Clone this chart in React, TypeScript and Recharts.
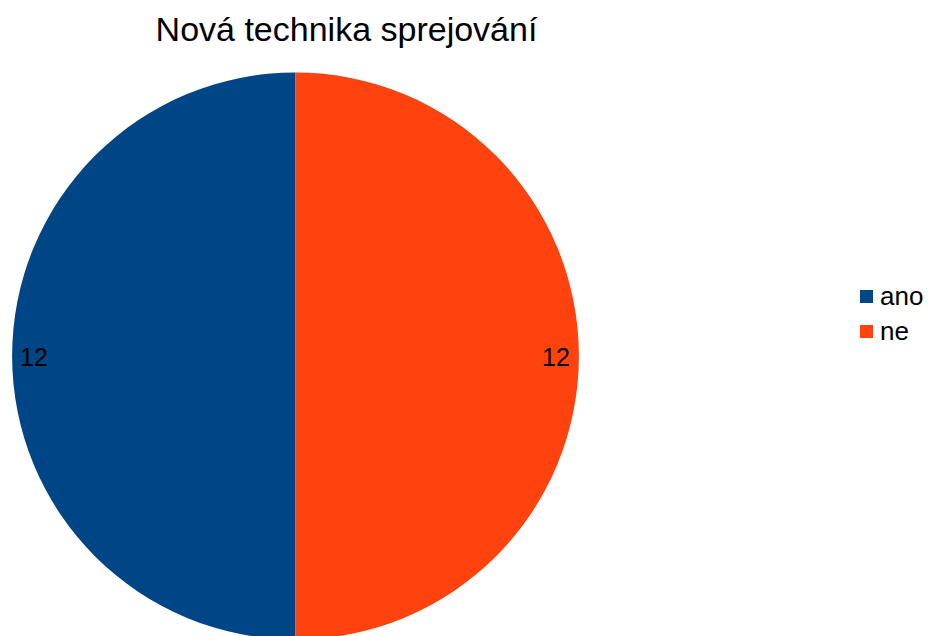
import React from 'react';
import { PieChart, Pie, Cell } from 'recharts';

const categories = ['ano', 'ne'];
const values = [12, 12];
const colors = ['#004586', '#ff420e'];

const chartData = categories.map((name, i) => ({ name, value: values[i] }));

const RAD = Math.PI / 180;
const FONT = '"Liberation Sans", Arial, sans-serif';

const renderLabel = (props: any) => {
  const { cx, cy, midAngle, value } = props;
  const r = 261;
  const x = cx + r * Math.cos(-midAngle * RAD);
  const y = cy + r * Math.sin(-midAngle * RAD);
  return (
    <text
      x={x - 0.5}
      y={y + 1}
      fill="#000"
      textAnchor="middle"
      dominantBaseline="central"
      fontSize={25}
      fontFamily={FONT}
    >
      {value}
    </text>
  );
};

const App = () => {
  return (
    <div
      style={{
        position: 'absolute',
        left: 0,
        top: 0,
        width: 928,
        height: 636,
        background: '#fff',
        overflow: 'hidden',
        fontFamily: FONT,
      }}
    >
      <div
        style={{
          position: 'absolute',
          left: 0,
          width: 693,
          top: 9,
          textAlign: 'center',
          fontSize: 34,
          lineHeight: '40px',
          color: '#000',
        }}
      >
        Nová technika sprejování
      </div>
      <PieChart width={928} height={636}>
        <Pie
          data={chartData}
          dataKey="value"
          nameKey="name"
          cx={290.5}
          cy={351}
          outerRadius={283.5}
          startAngle={90}
          endAngle={450}
          stroke="none"
          label={renderLabel}
          labelLine={false}
          isAnimationActive={false}
        >
          {chartData.map((d, i) => (
            <Cell key={d.name} fill={colors[i]} />
          ))}
        </Pie>
      </PieChart>
      {categories.map((c, i) => (
        <React.Fragment key={c}>
          <span
            style={{
              position: 'absolute',
              left: 860,
              top: 290 + i * 35,
              width: 13,
              height: 13,
              background: colors[i],
            }}
          />
          <span
            style={{
              position: 'absolute',
              left: 880,
              top: 281 + i * 35,
              fontSize: 26,
              lineHeight: '30px',
              color: '#000',
            }}
          >
            {c}
          </span>
        </React.Fragment>
      ))}
    </div>
  );
};

export default App;
